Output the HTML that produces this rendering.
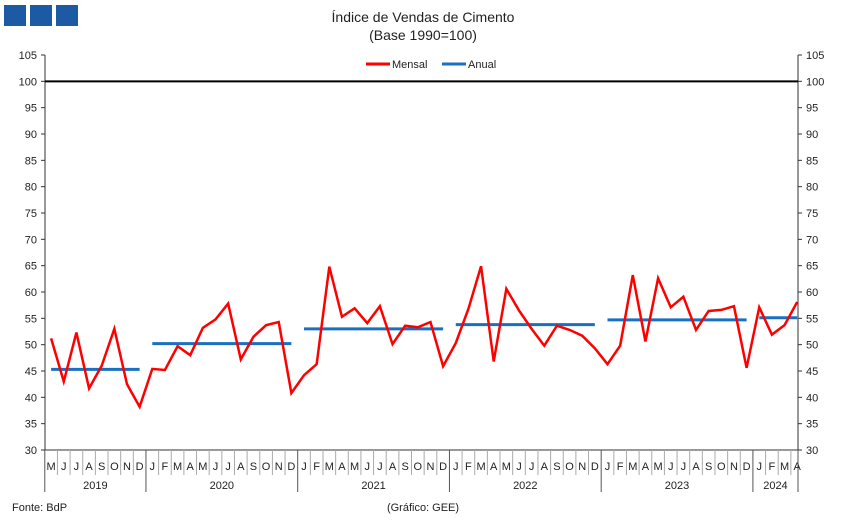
<!DOCTYPE html>
<html><head><meta charset="utf-8"><style>
body{margin:0;background:#fff;font-family:"Liberation Sans",sans-serif;}
svg text{font-family:"Liberation Sans",sans-serif;fill:#222;}
</style></head><body>
<svg id="c" width="851" height="520" xmlns="http://www.w3.org/2000/svg">
<rect x="4" y="5" width="22" height="21" fill="#1c5ba3"/>
<rect x="30" y="5" width="22" height="21" fill="#1c5ba3"/>
<rect x="56" y="5" width="22" height="21" fill="#1c5ba3"/>
<text x="423" y="22" text-anchor="middle" font-size="14">Índice de Vendas de Cimento</text>
<text x="423" y="40" text-anchor="middle" font-size="14">(Base 1990=100)</text>
<g>
<line x1="366" y1="64" x2="390" y2="64" stroke="#ff0000" stroke-width="3"/>
<text x="392" y="68" font-size="11">Mensal</text>
<line x1="442" y1="64" x2="466" y2="64" stroke="#1a70c0" stroke-width="3"/>
<text x="468" y="68" font-size="11">Anual</text>
</g>
<g id="axes"></g>
<g id="marks"></g>
<text x="12" y="511" font-size="11">Fonte: BdP</text>
<text x="423" y="511" text-anchor="middle" font-size="11">(Gráfico: GEE)</text>
</svg>
<script>
const monthLabels=["M","J","J","A","S","O","N","D","J","F","M","A","M","J","J","A","S","O","N","D","J","F","M","A","M","J","J","A","S","O","N","D","J","F","M","A","M","J","J","A","S","O","N","D","J","F","M","A","M","J","J","A","S","O","N","D","J","F","M","A"];
const monthly=[51.2,43,52.3,41.7,46,53,42.5,38.2,45.4,45.2,49.7,48,53.2,54.8,57.8,47.2,51.5,53.7,54.3,40.8,44.2,46.3,64.8,55.3,56.9,54.1,57.3,50.1,53.6,53.3,54.3,45.9,50.3,56.8,64.9,46.8,60.6,56.5,53,49.8,53.6,52.8,51.7,49.3,46.3,49.8,63.2,50.6,62.6,57.1,59.1,52.8,56.4,56.6,57.3,45.6,57.1,51.9,53.7,58.1];
const years=["2019","2020","2021","2022","2023","2024"];
const yearStart=[0,8,20,32,44,56];
const yearEnd=[7,19,31,43,55,59];
const annual=[45.3,50.2,53.0,53.8,54.7,55.1];
const yTicks=[30,35,40,45,50,55,60,65,70,75,80,85,90,95,100,105];
const refLine=100;
const NS="http://www.w3.org/2000/svg";
const L=45,R=798,T=55,B=450,yMin=30,yMax=105;
const n=monthLabels.length,step=12.645,X0=44.8;
const xs=i=>X0+step*(i+0.5);
const xb=i=>Math.min(R,X0+step*i);
const ys=v=>B-(v-yMin)/(yMax-yMin)*(B-T);
function mk(tag,attrs,parent,text){const e=document.createElementNS(NS,tag);for(const k in attrs)e.setAttribute(k,attrs[k]);if(text!==undefined)e.textContent=text;parent.appendChild(e);return e;}
const ax=document.getElementById('axes'),mg=document.getElementById('marks');
let e;
e=mk('line',{x1:L,y1:T,x2:L,y2:B,stroke:'#333'},ax);


e=mk('line',{x1:R,y1:T,x2:R,y2:B,stroke:'#333'},ax);


e=mk('line',{x1:L,y1:B,x2:R,y2:B,stroke:'#333'},ax);


yTicks.forEach(v=>{const y=ys(v);
mk('line',{x1:L-4,y1:y,x2:L,y2:y,stroke:'#333'},ax);
mk('line',{x1:R,y1:y,x2:R+4,y2:y,stroke:'#333'},ax);
e=mk('text',{x:37,y:y+4,'text-anchor':'end','font-size':11},ax,String(v));


e=mk('text',{x:806,y:y+4,'font-size':11},ax,String(v));

});
for(let i=0;i<=n;i++){const x=xb(i);const isYear=yearStart.includes(i)||i===n;
mk('line',{x1:x,y1:B,x2:x,y2:isYear?492:475,stroke:isYear?'#555':'#aaa'},ax);}
monthLabels.forEach((m,i)=>{e=mk('text',{x:xs(i),y:470,'text-anchor':'middle','font-size':11},ax,m);

});
years.forEach((yr,k)=>{const x=(xb(yearStart[k])+xb(yearEnd[k]+1))/2;
e=mk('text',{x:x,y:489,'text-anchor':'middle','font-size':11},ax,yr);

});
e=mk('line',{x1:L,y1:ys(refLine),x2:R,y2:ys(refLine),stroke:'#000','stroke-width':2},mg);


annual.forEach((v,k)=>{e=mk('line',{x1:xs(yearStart[k]),y1:ys(v),x2:xs(yearEnd[k]),y2:ys(v),stroke:'#1a70c0','stroke-width':3},mg);

});
e=mk('polyline',{points:monthly.map((v,i)=>xs(i)+','+ys(v)).join(' '),fill:'none',stroke:'#ff0000','stroke-width':2.5,'stroke-linejoin':'miter'},mg);


</script>
</body></html>
